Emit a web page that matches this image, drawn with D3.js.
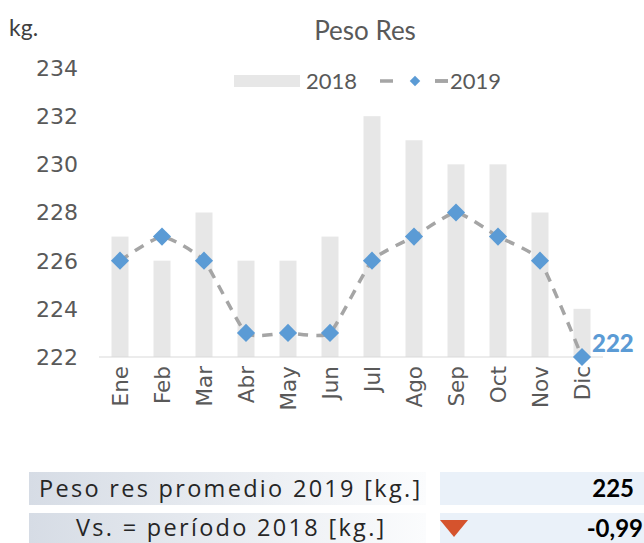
<!DOCTYPE html>
<html>
<head>
<meta charset="utf-8">
<script src="https://cdn.jsdelivr.net/npm/d3@7"></script>
<style>
  body { margin: 0; background: #fff; }
  svg { display: block; }
</style>
</head>
<body>
<div id="chart"></div>
<script>
// chart data
const months = ["Ene", "Feb", "Mar", "Abr", "May", "Jun", "Jul", "Ago", "Sep", "Oct", "Nov", "Dic"];
const peso2018 = [227, 226, 228, 226, 226, 227, 232, 231, 230, 230, 228, 224];
const peso2019 = [226, 227, 226, 223, 223, 223, 226, 227, 228, 227, 226, 222];
const yTicks = [222, 224, 226, 228, 230, 232, 234];
const summaryLabels = ["Peso res promedio 2019 [kg.]", "Vs. = período 2018 [kg.]"];
const summaryValues = ["225", "-0,99"];

const W = 644, H = 543;
const chartFont = "Lato, 'Liberation Sans', sans-serif";
const axisFont = "'DejaVu Sans', 'Open Sans', sans-serif";
const tableFont = "'Open Sans', 'DejaVu Sans', sans-serif";

const svg = d3.select("#chart").append("svg")
  .attr("width", W)
  .attr("height", H);

// scales
const x = d3.scaleBand().domain(months).range([99, 603]);
const y = d3.scaleLinear().domain([222, 234]).range([357, 68]);

// bars 2018
const barW = 17;
svg.append("g")
  .selectAll("rect")
  .data(peso2018)
  .join("rect")
  .attr("x", (d, i) => x(months[i]) + x.bandwidth() / 2 - barW / 2)
  .attr("y", d => y(d))
  .attr("width", barW)
  .attr("height", d => y(222) - y(d))
  .attr("fill", "#e7e7e7");

// baseline
svg.append("line")
  .attr("x1", x.range()[0]).attr("x2", x.range()[1])
  .attr("y1", y(222)).attr("y2", y(222))
  .attr("stroke", "#d9d9d9")
  .attr("stroke-width", 1.2);

// y tick labels
svg.append("g")
  .selectAll("text")
  .data(yTicks)
  .join("text")
  .attr("x", 78)
  .attr("y", d => y(d))
  .attr("dy", "0.36em")
  .attr("text-anchor", "end")
  .style("font-family", axisFont)
  .style("font-size", "22px")
  .attr("fill", "#595959")
  .text(d => d);

// x labels (rotated)
svg.append("g")
  .selectAll("text")
  .data(months)
  .join("text")
  .attr("transform", d => `translate(${x(d) + x.bandwidth() / 2},366) rotate(-90)`)
  .attr("dy", "0.36em")
  .attr("text-anchor", "end")
  .style("font-family", axisFont)
  .style("font-size", "21.5px")
  .attr("fill", "#595959")
  .text(d => d);

// 2019 line
const pts = peso2019.map((d, i) => [x(months[i]) + x.bandwidth() / 2, y(d)]);
const line = d3.line().curve(d3.curveCardinal.tension(0.5));
svg.append("path")
  .attr("d", line(pts))
  .attr("fill", "none")
  .attr("stroke", "#a5a5a5")
  .attr("stroke-width", 3.5)
  .attr("stroke-dasharray", "10,8");

// diamond markers
svg.append("g")
  .selectAll("path")
  .data(pts)
  .join("path")
  .attr("transform", d => `translate(${d[0]},${d[1]}) rotate(45)`)
  .attr("d", d3.symbol().type(d3.symbolSquare).size(165))
  .attr("fill", "#5b9bd5");

// last value label
const last = pts[pts.length - 1];
svg.append("text")
  .attr("x", last[0] + 10)
  .attr("y", last[1] - 14)
  .attr("dy", "0.36em")
  .style("font-family", chartFont)
  .style("font-size", "24px")
  .style("font-weight", "900")
  .attr("fill", "#5b9bd5")
  .text(peso2019[peso2019.length - 1]);

// title + unit
svg.append("text")
  .attr("x", 365).attr("y", 40)
  .attr("text-anchor", "middle")
  .style("font-family", chartFont)
  .style("font-size", "26px")
  .attr("fill", "#595959")
  .text("Peso Res");

svg.append("text")
  .attr("x", 9).attr("y", 36)
  .style("font-family", chartFont)
  .style("font-size", "23px")
  .attr("fill", "#404040")
  .text("kg.");

// legend
const lg = svg.append("g");
lg.append("rect")
  .attr("x", 234).attr("y", 75).attr("width", 66).attr("height", 12)
  .attr("fill", "#e7e7e7");
lg.append("text")
  .attr("x", 306).attr("y", 89)
  .style("font-family", chartFont).style("font-size", "22px")
  .attr("fill", "#595959").text("2018");
lg.append("line")
  .attr("x1", 380).attr("x2", 450).attr("y1", 81).attr("y2", 81)
  .attr("stroke", "#a5a5a5").attr("stroke-width", 3.5)
  .attr("stroke-dasharray", "13,42");
lg.append("line")
  .attr("x1", 435).attr("x2", 448).attr("y1", 81).attr("y2", 81)
  .attr("stroke", "#a5a5a5").attr("stroke-width", 3.5);
lg.append("path")
  .attr("transform", "translate(415,81) rotate(45)")
  .attr("d", d3.symbol().type(d3.symbolSquare).size(55))
  .attr("fill", "#5b9bd5");
lg.append("text")
  .attr("x", 450).attr("y", 89)
  .style("font-family", chartFont).style("font-size", "22px")
  .attr("fill", "#595959").text("2019");

// summary table
const defs = svg.append("defs");
const grad = defs.append("linearGradient").attr("id", "rowGrad");
grad.append("stop").attr("offset", "0%").attr("stop-color", "#d6dce5");
grad.append("stop").attr("offset", "100%").attr("stop-color", "#fbfcfd");

const rowY = [472, 513];
const rowH = [33, 30];
const rows = svg.append("g")
  .selectAll("g")
  .data(summaryLabels)
  .join("g");

rows.append("rect")
  .attr("x", 29).attr("y", (d, i) => rowY[i])
  .attr("width", 397).attr("height", (d, i) => rowH[i])
  .attr("fill", "url(#rowGrad)");
rows.append("rect")
  .attr("x", 440).attr("y", (d, i) => rowY[i])
  .attr("width", 204).attr("height", (d, i) => rowH[i])
  .attr("fill", "#eaf1f9");
rows.append("text")
  .attr("x", (d, i) => i === 0 ? 39 : 76)
  .attr("y", (d, i) => rowY[i] + rowH[i] / 2)
  .attr("dy", "0.36em")
  .style("font-family", tableFont)
  .style("font-size", "23.5px")
  .style("letter-spacing", "2.3px")
  .attr("fill", "#262626")
  .text(d => d);
rows.append("text")
  .attr("x", (d, i) => i === 0 ? 634 : 643)
  .attr("y", (d, i) => rowY[i] + rowH[i] / 2)
  .attr("dy", "0.36em")
  .attr("text-anchor", "end")
  .style("font-family", chartFont)
  .style("font-size", "24px")
  .style("font-weight", "bold")
  .attr("fill", "#000")
  .text((d, i) => summaryValues[i]);

// down arrow for variation
svg.append("path")
  .attr("d", "M440,520 L468,520 L454,537 Z")
  .attr("fill", "#d5532d");
</script>
</body>
</html>
